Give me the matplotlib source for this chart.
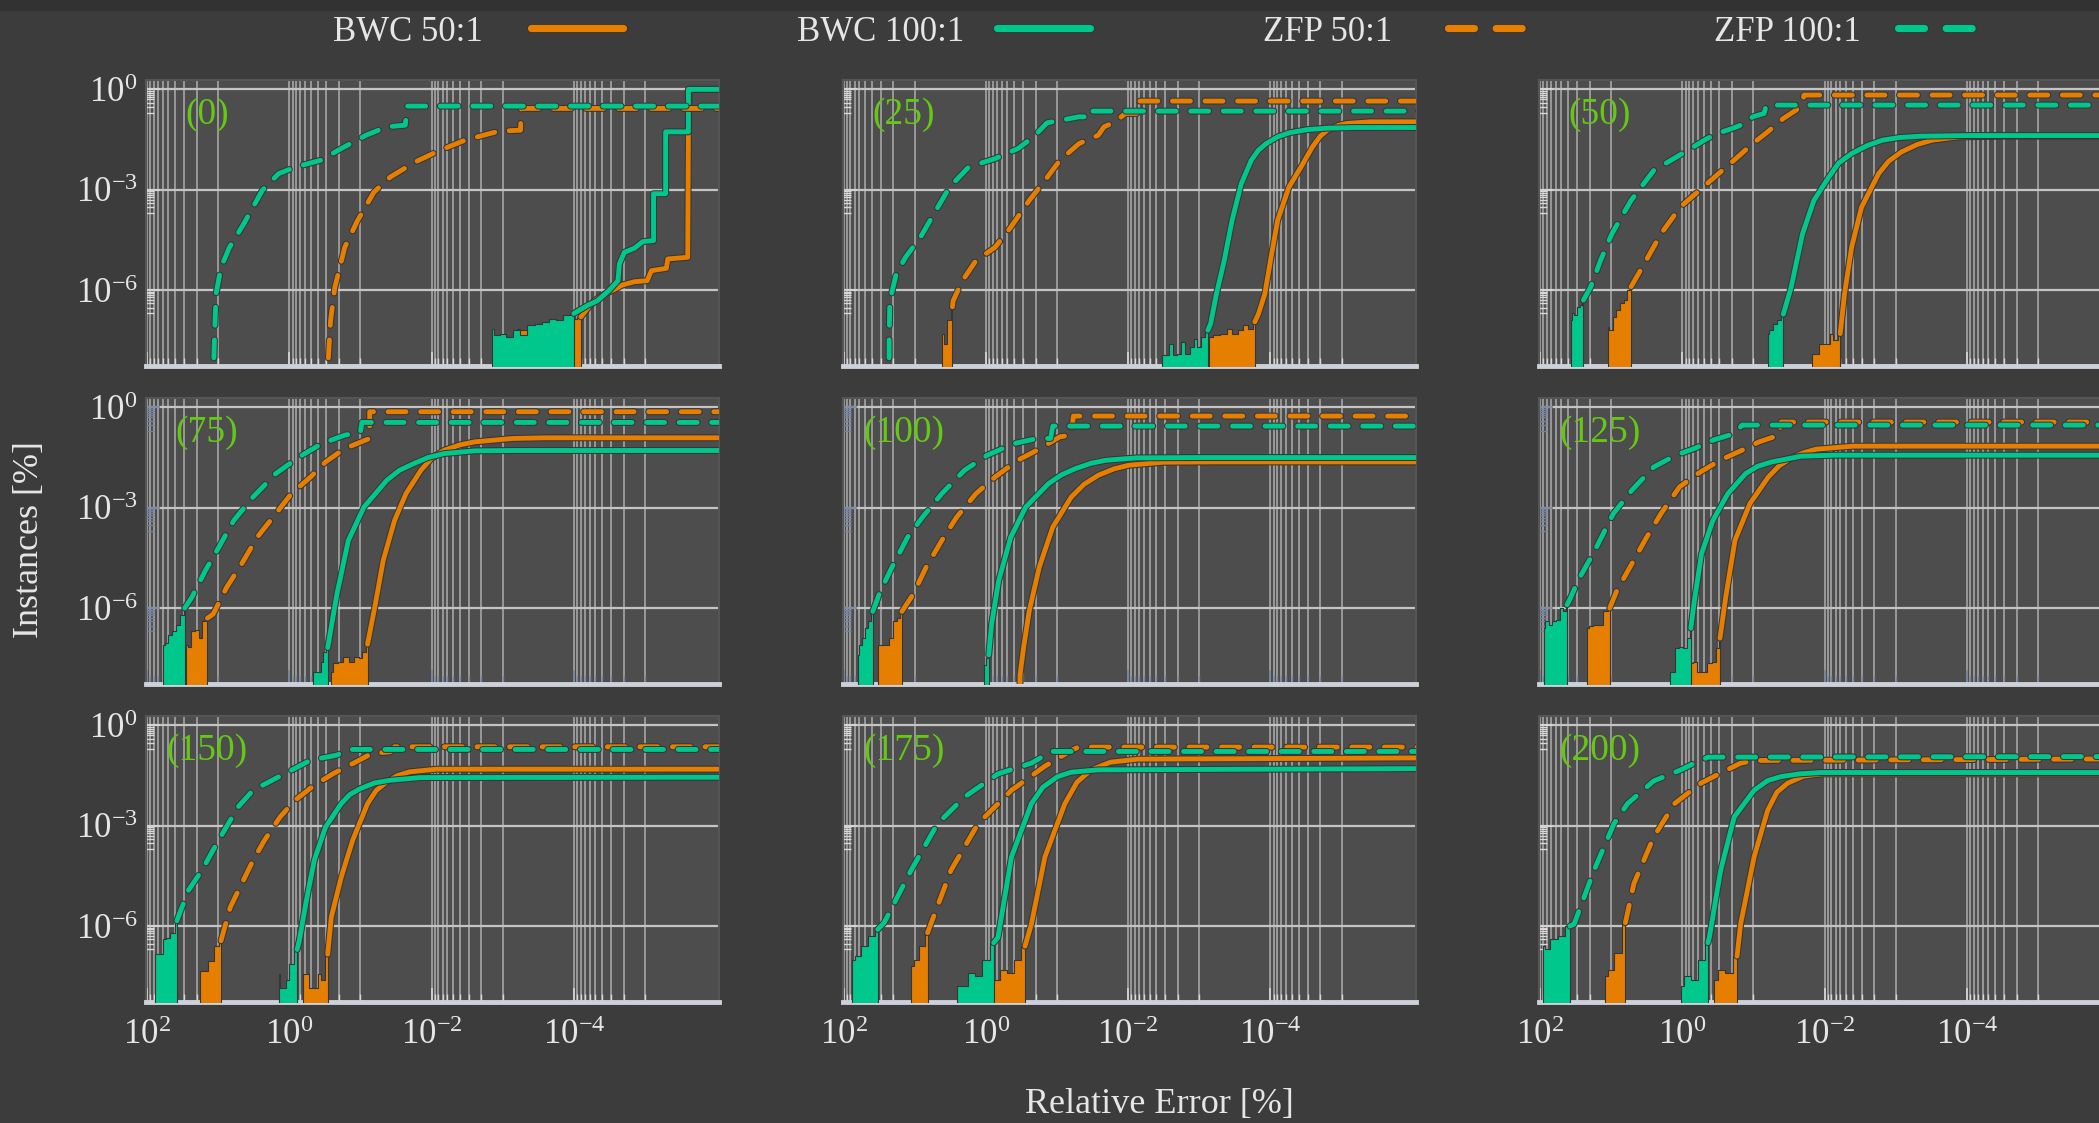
import numpy as np
import matplotlib
matplotlib.use('Agg')
import matplotlib.pyplot as plt
import matplotlib.patheffects as pe
from matplotlib.lines import Line2D
from matplotlib.patches import Rectangle
from matplotlib.ticker import FixedLocator, LogFormatterSciNotation, NullFormatter

plt.rcParams['font.family'] = 'Liberation Serif'
plt.rcParams['mathtext.fontset'] = 'custom'
plt.rcParams['mathtext.rm'] = 'Liberation Serif'
plt.rcParams['mathtext.it'] = 'Liberation Serif:italic'
plt.rcParams['mathtext.bf'] = 'Liberation Serif:bold'
plt.rcParams['axes.unicode_minus'] = False

# curves are (log10 relative error, log10 instances) pairs
# *_noise lists give the jagged top of the low-count band at the bottom

# ---- (0)
p0_bwc50_noise = [(-3.2, -7.15), (-3.3, -7.2), (-3.4, -7.1), (-3.5, -7.0), (-3.6, -7.0), (-3.7, -6.9), (-3.8, -6.95), (-3.9, -6.9), (-4.0, -6.85), (-4.1, -6.8)]
p0_bwc50 = [(-4.1, -6.8), (-4.21, -6.5), (-4.3, -6.3), (-4.45, -6.1), (-4.6, -5.95), (-4.68, -5.85), (-4.85, -5.75), (-5.03, -5.72), (-5.09, -5.42), (-5.3, -5.35), (-5.32, -5.07), (-5.6, -5.02), (-5.61, -1.32), (-5.62, 0.0), (-6.5, 0.0)]
p0_bwc100_noise = [(-2.85, -7.15), (-2.92, -7.35), (-3.0, -7.3), (-3.1, -7.4), (-3.2, -7.2), (-3.3, -7.35), (-3.4, -7.05), (-3.5, -7.0), (-3.6, -6.95), (-3.7, -6.85), (-3.8, -6.9), (-3.9, -6.75), (-4.0, -6.7)]
p0_bwc100 = [(-4.0, -6.7), (-4.2, -6.45), (-4.33, -6.32), (-4.5, -6.0), (-4.62, -5.72), (-4.64, -5.22), (-4.71, -4.87), (-4.85, -4.75), (-4.97, -4.55), (-5.12, -4.52), (-5.12, -3.12), (-5.29, -3.12), (-5.29, -1.27), (-5.61, -1.27), (-5.61, 0.0), (-6.5, 0.0)]
p0_zfp50 = [(-0.54, -9.0), (-0.55, -8.0), (-0.58, -6.92), (-0.64, -5.92), (-0.78, -4.72), (-0.96, -3.92), (-1.19, -3.07), (-1.42, -2.62), (-1.77, -2.17), (-2.12, -1.82), (-2.47, -1.52), (-2.82, -1.32), (-2.95, -1.25), (-3.25, -1.22), (-3.26, -0.57), (-6.5, -0.57)]
p0_zfp100 = [(1.06, -9.0), (1.06, -8.0), (1.03, -6.12), (0.96, -5.32), (0.84, -4.72), (0.64, -4.02), (0.38, -3.02), (0.15, -2.52), (-0.09, -2.32), (-0.44, -2.12), (-0.73, -1.77), (-1.08, -1.37), (-1.37, -1.12), (-1.63, -1.07), (-1.66, -0.5), (-6.5, -0.5)]

# ---- (25)
p25_bwc50_noise = [(-3.14, -7.4), (-3.25, -7.35), (-3.35, -7.3), (-3.42, -7.15), (-3.5, -7.3), (-3.58, -7.2), (-3.65, -7.05), (-3.72, -7.15), (-3.78, -6.95)]
p25_bwc50 = [(-3.78, -6.95), (-3.83, -6.72), (-3.92, -6.12), (-4.0, -5.12), (-4.1, -3.92), (-4.26, -2.92), (-4.43, -2.32), (-4.59, -1.72), (-4.7, -1.4), (-4.8, -1.22), (-4.95, -1.08), (-5.07, -1.02), (-5.4, -0.97), (-6.5, -0.97)]
p25_bwc100_noise = [(-2.47, -7.95), (-2.55, -7.95), (-2.6, -7.6), (-2.65, -7.95), (-2.72, -7.9), (-2.78, -7.55), (-2.83, -7.9), (-2.9, -7.7), (-2.95, -7.45), (-3.0, -7.7), (-3.05, -7.4), (-3.12, -7.2)]
p25_bwc100 = [(-3.12, -7.2), (-3.16, -7.0), (-3.24, -6.12), (-3.35, -5.12), (-3.46, -3.92), (-3.59, -2.82), (-3.73, -2.12), (-3.83, -1.82), (-3.94, -1.62), (-4.1, -1.42), (-4.26, -1.3), (-4.53, -1.2), (-4.8, -1.16), (-5.2, -1.14), (-6.5, -1.14)]
p25_zfp50_noise = [(0.62, -7.3), (0.56, -7.6), (0.52, -6.9), (0.47, -6.5)]
p25_zfp50 = [(0.47, -6.5), (0.46, -6.32), (0.33, -5.72), (0.14, -5.12), (-0.13, -4.72), (-0.35, -4.12), (-0.61, -3.32), (-0.83, -2.72), (-1.04, -2.12), (-1.31, -1.62), (-1.58, -1.37), (-1.66, -1.12), (-1.82, -0.97), (-1.96, -0.72), (-2.12, -0.72), (-2.12, -0.35), (-6.5, -0.35)]
p25_zfp100 = [(1.36, -9.0), (1.36, -7.5), (1.35, -6.32), (1.26, -5.52), (1.13, -5.02), (0.92, -4.42), (0.73, -3.72), (0.51, -2.92), (0.24, -2.32), (-0.13, -2.07), (-0.45, -1.77), (-0.67, -1.42), (-0.86, -1.0), (-1.31, -0.82), (-1.5, -0.82), (-1.5, -0.65), (-6.5, -0.65)]

# ---- (50)
p50_bwc50_noise = [(-1.82, -7.9), (-1.9, -7.9), (-1.95, -7.62), (-2.05, -7.62), (-2.1, -7.3), (-2.15, -7.5), (-2.22, -7.3)]
p50_bwc50 = [(-2.22, -7.3), (-2.28, -6.12), (-2.38, -4.72), (-2.52, -3.52), (-2.76, -2.52), (-2.9, -2.15), (-3.08, -1.87), (-3.3, -1.65), (-3.51, -1.52), (-3.88, -1.42), (-4.5, -1.4), (-6.5, -1.4)]
p50_bwc100_noise = [(-1.2, -7.3), (-1.25, -7.2), (-1.3, -7.0), (-1.35, -6.9), (-1.42, -6.72)]
p50_bwc100 = [(-1.42, -6.72), (-1.53, -5.92), (-1.69, -4.32), (-1.85, -3.32), (-2.06, -2.62), (-2.2, -2.2), (-2.38, -1.92), (-2.6, -1.68), (-2.81, -1.52), (-3.05, -1.44), (-3.35, -1.4), (-4.0, -1.38), (-6.5, -1.38)]
p50_zfp50_noise = [(1.05, -7.1), (1.0, -7.2), (0.95, -6.8), (0.9, -6.6), (0.85, -6.4), (0.8, -6.3), (0.75, -6.0), (0.72, -5.9)]
p50_zfp50 = [(0.72, -5.9), (0.51, -5.12), (0.3, -4.32), (0.03, -3.52), (-0.24, -3.02), (-0.51, -2.52), (-0.78, -2.02), (-0.99, -1.62), (-1.2, -1.27), (-1.42, -0.87), (-1.6, -0.62), (-1.69, -0.42), (-1.71, -0.17), (-6.5, -0.17)]
p50_zfp100_noise = [(1.56, -6.9), (1.53, -6.7), (1.5, -6.75), (1.46, -6.5), (1.42, -6.45), (1.39, -6.3)]
p50_zfp100 = [(1.39, -6.3), (1.29, -5.92), (1.15, -5.12), (0.99, -4.32), (0.72, -3.32), (0.4, -2.42), (0.08, -2.02), (-0.35, -1.47), (-0.56, -1.27), (-0.7, -1.17), (-0.88, -1.02), (-0.99, -0.82), (-1.15, -0.72), (-1.18, -0.47), (-6.5, -0.47)]

# ---- (75)
p75_bwc50_noise = [(-0.59, -7.9), (-0.65, -7.65), (-0.72, -7.6), (-0.8, -7.45), (-0.88, -7.6), (-0.95, -7.45), (-1.0, -7.5), (-1.05, -7.3), (-1.1, -7.08)]
p75_bwc50 = [(-1.1, -7.08), (-1.21, -5.88), (-1.32, -4.58), (-1.48, -3.38), (-1.64, -2.58), (-1.85, -1.88), (-2.0, -1.52), (-2.18, -1.28), (-2.4, -1.12), (-2.61, -1.03), (-3.14, -0.93), (-3.6, -0.91), (-6.5, -0.91)]
p75_bwc100_noise = [(-0.34, -7.9), (-0.42, -7.9), (-0.46, -7.6), (-0.5, -7.3), (-0.54, -7.18)]
p75_bwc100 = [(-0.54, -7.18), (-0.67, -5.58), (-0.83, -3.98), (-1.05, -2.98), (-1.37, -2.18), (-1.55, -1.88), (-1.75, -1.68), (-1.95, -1.5), (-2.18, -1.38), (-2.61, -1.3), (-3.2, -1.29), (-6.5, -1.29)]
p75_zfp50_noise = [(1.45, -7.1), (1.4, -7.15), (1.35, -6.7), (1.3, -6.65), (1.25, -6.9), (1.2, -6.4), (1.15, -6.3)]
p75_zfp50 = [(1.15, -6.3), (1.07, -6.18), (0.88, -5.38), (0.67, -4.68), (0.45, -3.88), (0.19, -3.18), (-0.03, -2.58), (-0.3, -2.08), (-0.51, -1.63), (-0.78, -1.23), (-1.13, -0.93), (-1.13, -0.13), (-6.5, -0.13)]
p75_zfp100_noise = [(1.77, -7.1), (1.72, -7.05), (1.68, -6.8), (1.62, -6.7), (1.56, -6.5), (1.5, -6.2), (1.47, -6.0)]
p75_zfp100 = [(1.47, -6.0), (1.37, -5.68), (1.18, -4.88), (0.99, -4.18), (0.78, -3.38), (0.51, -2.68), (0.19, -1.98), (-0.14, -1.48), (-0.46, -1.08), (-0.78, -0.83), (-1.0, -0.75), (-1.02, -0.45), (-6.5, -0.45)]

# ---- (100)
p100_bwc50 = [(-0.48, -9.0), (-0.48, -8.0), (-0.53, -7.18), (-0.61, -6.08), (-0.75, -4.78), (-0.94, -3.58), (-1.2, -2.68), (-1.38, -2.3), (-1.58, -2.03), (-1.8, -1.84), (-2.01, -1.73), (-2.49, -1.64), (-3.2, -1.63), (-6.5, -1.63)]
p100_bwc100_noise = [(0.02, -7.7), (-0.02, -7.5), (-0.04, -7.4)]
p100_bwc100 = [(-0.04, -7.4), (-0.08, -6.48), (-0.18, -5.18), (-0.35, -3.88), (-0.56, -2.98), (-0.88, -2.28), (-1.06, -2.02), (-1.26, -1.83), (-1.48, -1.67), (-1.69, -1.58), (-2.12, -1.51), (-3.0, -1.5), (-6.5, -1.5)]
p100_zfp50_noise = [(1.51, -7.1), (1.45, -7.1), (1.4, -7.1), (1.33, -6.9), (1.28, -6.4), (1.23, -6.3), (1.18, -6.1)]
p100_zfp50 = [(1.18, -6.1), (1.02, -5.58), (0.84, -4.78), (0.62, -3.98), (0.41, -3.28), (0.14, -2.58), (-0.13, -2.08), (-0.45, -1.58), (-0.72, -1.28), (-1.04, -0.88), (-1.2, -0.83), (-1.23, -0.26), (-6.5, -0.26)]
p100_zfp100_noise = [(1.8, -7.4), (1.76, -7.1), (1.72, -6.9), (1.68, -6.6), (1.64, -6.4), (1.59, -6.1)]
p100_zfp100 = [(1.59, -6.1), (1.48, -5.48), (1.32, -4.78), (1.1, -3.88), (0.89, -3.28), (0.62, -2.58), (0.3, -1.88), (-0.02, -1.43), (-0.4, -1.08), (-0.72, -0.93), (-0.91, -0.93), (-0.94, -0.56), (-6.5, -0.56)]

# ---- (125)
p125_bwc50_noise = [(-0.12, -7.65), (-0.18, -7.6), (-0.25, -7.9), (-0.33, -7.9), (-0.38, -7.65), (-0.45, -7.6), (-0.5, -7.2), (-0.53, -6.9)]
p125_bwc50 = [(-0.53, -6.9), (-0.61, -5.68), (-0.74, -3.98), (-0.95, -2.88), (-1.21, -2.08), (-1.36, -1.75), (-1.52, -1.53), (-1.7, -1.36), (-1.88, -1.25), (-2.4, -1.16), (-6.5, -1.16)]
p125_bwc100_noise = [(0.17, -7.9), (0.12, -7.9), (0.07, -7.2), (0.02, -7.15), (-0.04, -7.2), (-0.09, -6.9), (-0.12, -6.6)]
p125_bwc100 = [(-0.12, -6.6), (-0.17, -5.78), (-0.27, -4.38), (-0.43, -3.38), (-0.64, -2.58), (-0.89, -1.98), (-1.06, -1.76), (-1.26, -1.63), (-1.67, -1.46), (-2.14, -1.43), (-6.5, -1.43)]
p125_zfp50_noise = [(1.34, -6.6), (1.28, -6.55), (1.22, -6.5), (1.15, -6.5), (1.08, -6.1), (1.02, -6.0)]
p125_zfp50 = [(1.02, -6.0), (0.92, -5.48), (0.71, -4.68), (0.5, -3.88), (0.3, -3.18), (0.04, -2.38), (-0.22, -1.98), (-0.53, -1.58), (-0.84, -1.28), (-1.08, -1.03), (-1.36, -0.83), (-1.39, -0.44), (-6.5, -0.44)]
p125_zfp100_noise = [(1.95, -6.6), (1.9, -6.4), (1.85, -6.5), (1.8, -6.4), (1.75, -6.35), (1.7, -6.0), (1.66, -6.1), (1.62, -5.9)]
p125_zfp100 = [(1.62, -5.9), (1.59, -5.78), (1.44, -5.08), (1.23, -4.28), (0.97, -3.18), (0.71, -2.48), (0.4, -1.78), (0.09, -1.43), (-0.17, -1.23), (-0.43, -0.98), (-0.74, -0.78), (-0.84, -0.53), (-6.5, -0.53)]

# ---- (150)
p150_bwc50_noise = [(-0.19, -7.44), (-0.25, -7.44), (-0.3, -7.84), (-0.38, -7.84), (-0.42, -7.44), (-0.47, -7.6), (-0.54, -6.84)]
p150_bwc50 = [(-0.54, -6.84), (-0.59, -5.74), (-0.73, -4.54), (-0.89, -3.44), (-1.1, -2.34), (-1.22, -1.95), (-1.37, -1.69), (-1.52, -1.5), (-1.69, -1.39), (-2.07, -1.31), (-6.5, -1.31)]
p150_bwc100_noise = [(0.14, -7.44), (0.12, -7.85), (0.06, -7.85), (0.03, -7.6), (-0.03, -7.14), (-0.11, -6.7)]
p150_bwc100 = [(-0.11, -6.7), (-0.14, -6.44), (-0.24, -5.24), (-0.35, -4.04), (-0.51, -3.04), (-0.73, -2.34), (-0.85, -2.07), (-1.0, -1.89), (-1.2, -1.72), (-1.42, -1.64), (-1.85, -1.56), (-6.5, -1.55)]
p150_zfp50_noise = [(1.26, -7.34), (1.18, -7.34), (1.1, -7.04), (1.02, -6.6), (0.96, -6.44)]
p150_zfp50 = [(0.96, -6.44), (0.83, -5.44), (0.67, -4.74), (0.51, -4.04), (0.35, -3.44), (0.13, -2.74), (-0.08, -2.24), (-0.35, -1.79), (-0.62, -1.44), (-0.94, -1.09), (-1.16, -0.84), (-1.42, -0.79), (-1.48, -0.64), (-6.5, -0.64)]
p150_zfp100_noise = [(1.89, -6.84), (1.8, -6.84), (1.76, -6.4), (1.7, -6.35), (1.64, -6.2), (1.58, -5.84)]
p150_zfp100 = [(1.58, -5.84), (1.42, -4.94), (1.23, -4.34), (1.1, -3.84), (0.94, -3.24), (0.72, -2.44), (0.51, -1.94), (0.24, -1.64), (-0.03, -1.34), (-0.3, -1.04), (-0.67, -0.89), (-0.83, -0.72), (-6.5, -0.72)]

# ---- (175)
p175_bwc50_noise = [(-0.07, -7.5), (-0.15, -7.6), (-0.25, -7.3), (-0.35, -7.4), (-0.45, -7.0), (-0.55, -6.6)]
p175_bwc50 = [(-0.55, -6.6), (-0.64, -5.94), (-0.83, -3.93), (-1.11, -2.34), (-1.28, -1.7), (-1.48, -1.33), (-1.75, -1.1), (-2.14, -1.01), (-6.5, -0.97)]
p175_bwc100_noise = [(0.4, -7.8), (0.3, -7.8), (0.2, -7.4), (0.1, -7.5), (0.0, -7.0), (-0.11, -6.5)]
p175_bwc100 = [(-0.11, -6.5), (-0.17, -6.34), (-0.36, -3.93), (-0.64, -2.34), (-0.8, -1.85), (-1.01, -1.53), (-1.2, -1.4), (-1.58, -1.33), (-6.5, -1.29)]
p175_zfp50_noise = [(1.05, -7.2), (0.98, -7.0), (0.9, -6.6), (0.82, -6.2)]
p175_zfp50 = [(0.82, -6.2), (0.49, -4.33), (0.11, -2.94), (-0.36, -1.94), (-0.83, -1.22), (-1.2, -0.75), (-1.3, -0.65), (-6.5, -0.65)]
p175_zfp100_noise = [(1.88, -7.0), (1.8, -6.9), (1.7, -6.6), (1.6, -6.3), (1.52, -6.1)]
p175_zfp100 = [(1.52, -6.1), (1.43, -5.9), (1.05, -4.33), (0.68, -2.94), (0.3, -2.14), (-0.17, -1.45), (-0.64, -1.13), (-0.92, -0.78), (-6.5, -0.78)]

# ---- (200)
p200_bwc50_noise = [(-0.45, -7.6), (-0.55, -7.3), (-0.65, -7.4), (-0.77, -6.9)]
p200_bwc50 = [(-0.77, -6.9), (-0.82, -5.94), (-1.01, -3.93), (-1.2, -2.54), (-1.33, -2.0), (-1.48, -1.73), (-1.7, -1.52), (-1.95, -1.45), (-6.5, -1.45)]
p200_bwc100_noise = [(0.02, -7.8), (-0.08, -7.5), (-0.18, -7.6), (-0.28, -7.0), (-0.36, -6.5)]
p200_bwc100 = [(-0.36, -6.5), (-0.38, -6.34), (-0.54, -4.33), (-0.73, -2.74), (-1.01, -1.94), (-1.2, -1.65), (-1.39, -1.53), (-1.65, -1.45), (-1.95, -1.41), (-6.5, -1.41)]
p200_zfp50_noise = [(1.09, -7.5), (1.0, -7.3), (0.9, -6.8), (0.8, -5.9)]
p200_zfp50 = [(0.8, -5.9), (0.68, -4.73), (0.4, -3.33), (0.11, -2.34), (-0.26, -1.73), (-0.63, -1.33), (-0.82, -1.13), (-1.01, -1.05), (-6.5, -1.0)]
p200_zfp100_noise = [(1.96, -6.6), (1.9, -6.7), (1.8, -6.4), (1.7, -6.3), (1.58, -6.0)]
p200_zfp100 = [(1.58, -6.0), (1.52, -5.94), (1.24, -4.33), (0.96, -2.94), (0.77, -2.34), (0.4, -1.66), (0.02, -1.33), (-0.17, -1.13), (-0.36, -0.95), (-6.5, -0.93)]

panel_labels = ['(0)', '(25)', '(50)', '(75)', '(100)', '(125)', '(150)', '(175)', '(200)']
panels = [
    [(p0_bwc50, p0_bwc50_noise), (p0_bwc100, p0_bwc100_noise), (p0_zfp50, []), (p0_zfp100, [])],
    [(p25_bwc50, p25_bwc50_noise), (p25_bwc100, p25_bwc100_noise), (p25_zfp50, p25_zfp50_noise), (p25_zfp100, [])],
    [(p50_bwc50, p50_bwc50_noise), (p50_bwc100, p50_bwc100_noise), (p50_zfp50, p50_zfp50_noise), (p50_zfp100, p50_zfp100_noise)],
    [(p75_bwc50, p75_bwc50_noise), (p75_bwc100, p75_bwc100_noise), (p75_zfp50, p75_zfp50_noise), (p75_zfp100, p75_zfp100_noise)],
    [(p100_bwc50, []), (p100_bwc100, p100_bwc100_noise), (p100_zfp50, p100_zfp50_noise), (p100_zfp100, p100_zfp100_noise)],
    [(p125_bwc50, p125_bwc50_noise), (p125_bwc100, p125_bwc100_noise), (p125_zfp50, p125_zfp50_noise), (p125_zfp100, p125_zfp100_noise)],
    [(p150_bwc50, p150_bwc50_noise), (p150_bwc100, p150_bwc100_noise), (p150_zfp50, p150_zfp50_noise), (p150_zfp100, p150_zfp100_noise)],
    [(p175_bwc50, p175_bwc50_noise), (p175_bwc100, p175_bwc100_noise), (p175_zfp50, p175_zfp50_noise), (p175_zfp100, p175_zfp100_noise)],
    [(p200_bwc50, p200_bwc50_noise), (p200_bwc100, p200_bwc100_noise), (p200_zfp50, p200_zfp50_noise), (p200_zfp100, p200_zfp100_noise)],
]

series_names = ['BWC 50:1', 'BWC 100:1', 'ZFP 50:1', 'ZFP 100:1']
orange = '#e67e00'
green = '#00c88c'
series_colors = [orange, green, orange, green]
series_dashed = [False, False, True, True]

BG = '#3c3c3c'
FACE = '#4d4d4d'
TXT = '#e6e6e6'
LBL = '#64c814'

W, H = 2099, 1123
fig = plt.figure(figsize=(W / 100, H / 100), dpi=100, facecolor=BG)
fig.patches.append(Rectangle((0, 1 - 10 / H), 1, 10 / H, transform=fig.transFigure, color='#323232', zorder=0))

col_left = [146, 842.6, 1539]
row_top = [80, 398, 716]
ax_w, ax_h = 573, 286
tick_cols = ['#d8d8d8', '#7282a0', '#d8d8d8']

x_major = [1e2, 1e0, 1e-2, 1e-4]
y_major = [1e0, 1e-3, 1e-6]
# minor ticks fill the decade just below each major tick
x_minor = [m * 10.0 ** (k - 1) for k in (2, 0, -2, -4, -6) for m in range(1, 10)]
y_minor = [m * 10.0 ** (k - 1) for k in (0, -3, -6) for m in range(2, 10)]

outline = [pe.Stroke(linewidth=5.0, foreground='#363636'), pe.Normal()]


def draw_curve(ax, pts, noise, color, dashed, z):
    if noise:
        nx = 10 ** np.array([p[0] for p in noise])
        ny = 10 ** np.array([p[1] for p in noise])
        ax.fill_between(nx, ny, 1e-12, step='mid', facecolor=color, edgecolor='#363636', lw=0.8, zorder=z)
    x = 10 ** np.array([p[0] for p in pts])
    y = 10 ** np.array([p[1] for p in pts])
    ln, = ax.plot(x, y, color=color, lw=3.5, zorder=z + 0.5,
                  solid_capstyle='round', solid_joinstyle='round', dash_capstyle='round')
    if dashed:
        ln.set_dashes((3.7, 3.0))
    ln.set_path_effects(outline)


for i in range(9):
    r, c = divmod(i, 3)
    ax = fig.add_axes([col_left[c] / W, 1 - (row_top[r] + ax_h) / H, ax_w / W, ax_h / H])
    ax.set_facecolor(FACE)
    ax.set_xscale('log')
    ax.set_yscale('log')
    ax.set_xlim(10 ** 2.014, 10 ** -6.04)
    ax.set_ylim(10 ** -8.27, 10 ** 0.28)

    ax.xaxis.set_major_locator(FixedLocator(x_major))
    ax.xaxis.set_minor_locator(FixedLocator(x_minor))
    ax.xaxis.set_minor_formatter(NullFormatter())
    ax.yaxis.set_major_locator(FixedLocator(y_major))
    ax.yaxis.set_minor_locator(FixedLocator(y_minor))
    ax.yaxis.set_minor_formatter(NullFormatter())
    ax.xaxis.set_major_formatter(LogFormatterSciNotation())
    ax.yaxis.set_major_formatter(LogFormatterSciNotation())

    ax.grid(True, which='both', axis='x', color='#ececec', alpha=0.6, lw=1.1)
    ax.grid(True, which='major', axis='y', color='#c4c4c4', lw=1.6)
    ax.set_axisbelow(True)

    ax.tick_params(which='both', direction='in', colors=tick_cols[r], labelcolor=TXT, labelsize=25)
    ax.tick_params(which='major', length=10, width=1.2)
    ax.tick_params(which='minor', length=6, width=1.0)
    ax.tick_params(axis='x', pad=12, labelbottom=(r == 2))
    ax.tick_params(axis='y', pad=6, labelleft=(c == 0))

    for s in ['top', 'left', 'right']:
        ax.spines[s].set_color('#555555')
        ax.spines[s].set_linewidth(1.5)
    ax.spines['bottom'].set_color('#cdd1d9')
    ax.spines['bottom'].set_linewidth(3.5)

    for k, (pts, noise) in enumerate(panels[i]):
        draw_curve(ax, pts, noise, series_colors[k], series_dashed[k], 3 + k)

    ax.text(0.1065, 0.877, panel_labels[i], transform=ax.transAxes, ha='center', va='center',
            color=LBL, fontsize=27, zorder=10)

# legend row across the top
leg_text_x = [333, 797, 1263, 1714]
leg_line_x = [(531, 623), (997, 1090), (1448, 1532), (1898, 1983)]
for k in range(4):
    fig.text(leg_text_x[k] / W, 1 - 41 / H, series_names[k], color=TXT, fontsize=25,
             ha='left', va='baseline')
    x0, x1 = leg_line_x[k]
    h = Line2D([x0 / W, x1 / W], [1 - 28 / H, 1 - 28 / H], transform=fig.transFigure,
               color=series_colors[k], lw=5.2, solid_capstyle='round', dash_capstyle='round')
    if series_dashed[k]:
        h.set_dashes((3.6, 3.0))
    h.set_path_effects([pe.Stroke(linewidth=6.4, foreground='#333333'), pe.Normal()])
    fig.lines.append(h)

fig.text(30 / W, 1 - 540 / H, 'Instances [%]', rotation=90, color=TXT, fontsize=26,
         ha='center', va='center')
fig.text(1159 / W, 1 - 1104 / H, 'Relative Error [%]', color=TXT, fontsize=26,
         ha='center', va='center')

fig.savefig('out.png', dpi=100, facecolor=BG)
